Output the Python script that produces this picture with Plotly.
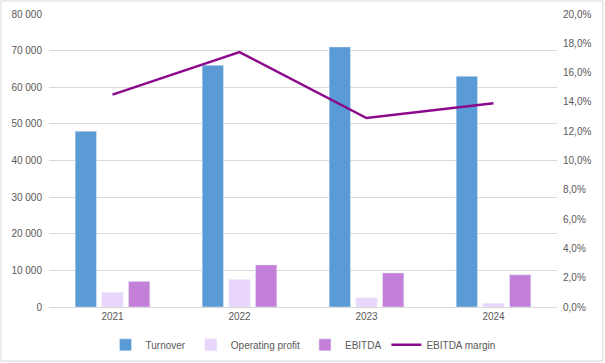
import plotly.graph_objects as go

years = ["2021", "2022", "2023", "2024"]
turnover = [48000, 66000, 71000, 63000]
operating_profit = [4000, 7500, 2500, 1000]
ebitda = [7000, 11500, 9300, 8800]
ebitda_margin = [0.145, 0.174, 0.129, 0.139]

W, H = 605, 363
ml, mr, mt, mb = 49, 48, 14, 56
pw = W - ml - mr
ph = H - mt - mb

fig = go.Figure()
fig.add_bar(x=years, y=turnover, name="Turnover", marker_color="#5B9BD5")
fig.add_bar(x=years, y=operating_profit, name="Operating profit", marker_color="#E9D6FB")
fig.add_bar(x=years, y=ebitda, name="EBITDA", marker_color="#C47FD8")
fig.add_scatter(x=years, y=ebitda_margin, name="EBITDA margin", yaxis="y2",
                mode="lines", line=dict(color="#8B0A8B", width=2.5))

font = dict(family="Liberation Sans, Arial", size=10, color="#595959")
fig.update_layout(
    width=W, height=H,
    margin=dict(l=ml, r=mr, t=mt, b=mb, autoexpand=False),
    paper_bgcolor="white", plot_bgcolor="white",
    separators=", ",
    font=font,
    barmode="group", bargap=0.37, bargroupgap=0.2,
    xaxis=dict(showgrid=False, showline=True, linecolor="#D9D9D9", ticks="",
               tickfont=font, automargin=False),
    yaxis=dict(range=[0, 80000], dtick=10000, tickformat=",.0f", showgrid=True,
               gridcolor="#D9D9D9", gridwidth=1, zeroline=False, ticks="", tickfont=font,
               automargin=False, ticklabelstandoff=6),
    yaxis2=dict(range=[0, 0.2], dtick=0.02, tickformat=".1%", overlaying="y",
                side="right", showgrid=False, zeroline=False, ticks="", tickfont=font,
                automargin=False, ticklabelstandoff=5),
    legend=dict(orientation="h", x=0.5, xanchor="center", yref="container", y=0.05,
                yanchor="middle", font=font, itemwidth=30, tracegroupgap=0),
    shapes=[dict(type="rect", xref="paper", yref="paper",
                 x0=(1 - ml) / pw, x1=(W - 2 - ml) / pw,
                 y0=-(H - 2 - mt - ph) / ph, y1=(ph + mt - 1) / ph,
                 line=dict(color="#D9D9D9", width=1), fillcolor="rgba(0,0,0,0)",
                 layer="below")],
)
fig.write_html("out.html", config={"displayModeBar": False},
               post_script="document.body.style.margin='0px';document.body.style.overflow='hidden';")
